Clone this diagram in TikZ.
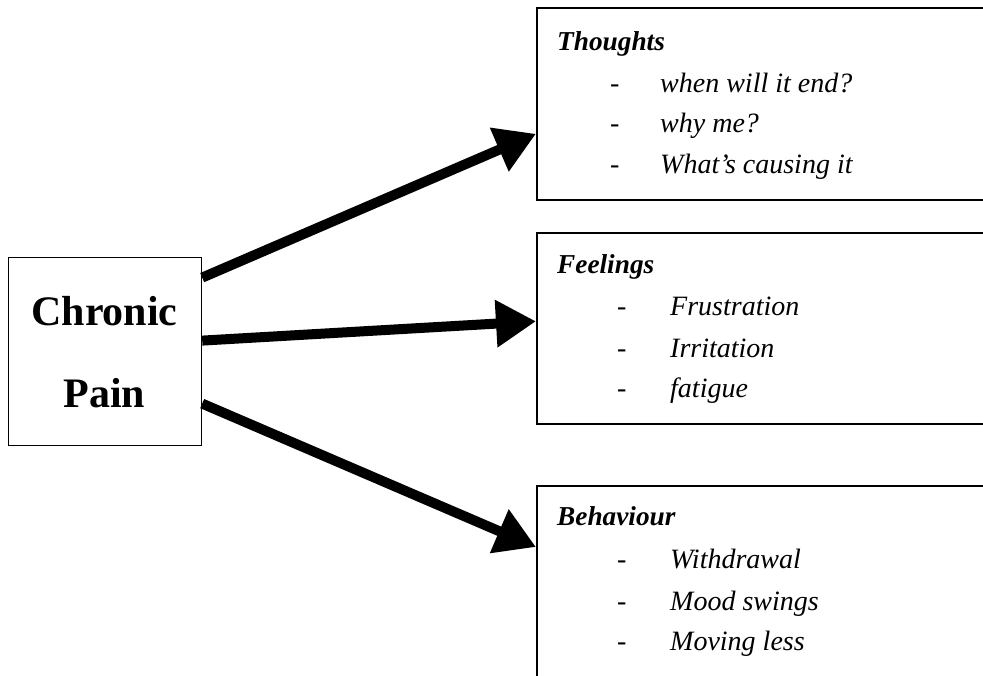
\documentclass[tikz,border=0pt]{standalone}
\usepackage{fontspec}
\setmainfont{Liberation Serif}
\usetikzlibrary{arrows.meta, positioning}

\begin{document}
\begin{tikzpicture}[
        x=1pt, y=-1pt,
        box/.style={draw, line width=1.6pt, rectangle, anchor=north west,
                    minimum width=460pt, inner sep=0pt},
        head/.style={anchor=base west, inner sep=0pt,
                     font=\fontsize{27.3}{30}\selectfont\bfseries\itshape},
        item/.style={anchor=base west, inner sep=0pt,
                     font=\fontsize{28}{30}\selectfont\itshape},
        dsh/.style={anchor=base west, inner sep=0pt,
                    font=\fontsize{28}{30}\selectfont},
        arr/.style={line width=10pt, -{Triangle[length=40pt, width=45pt]}},
      ]
      \useasboundingbox (0,0) rectangle (983,675);

      % Source box
      \node[draw, line width=1.2pt, anchor=north west, minimum width=193pt,
            minimum height=188pt, inner sep=0pt] (pain) at (8,257) {};
      \node[font=\fontsize{42}{45}\selectfont\bfseries, anchor=base,
            inner sep=0pt] (chronic) at (104.5,325) {Chronic};
      \node[font=\fontsize{42}{45}\selectfont\bfseries, anchor=base,
            inner sep=0pt] (painlbl) at (104.5,407) {Pain};

      % Target boxes (open to the right)
      \node[box, minimum height=192pt] (thoughts) at (536,7) {};
      \node[box, minimum height=191pt] (feelings) at (536,232) {};
      \node[box, minimum height=220pt] (behaviour) at (536,485) {};

      % Thoughts
      \node[head] (th0) at (557,50) {Thoughts};
      \node[dsh] (thd1) at (610,92) {-};
      \node[item] (th1) at (660,92) {when will it end?};
      \node[dsh] (thd2) at (610,132) {-};
      \node[item] (th2) at (660,132) {why me?};
      \node[dsh] (thd3) at (610,173) {-};
      \node[item] (th3) at (660,173) {What’s causing it};

      % Feelings
      \node[head] (fe0) at (557,273) {Feelings};
      \node[dsh] (fed1) at (617,315) {-};
      \node[item] (fe1) at (670,315) {Frustration};
      \node[dsh] (fed2) at (617,357) {-};
      \node[item] (fe2) at (670,357) {Irritation};
      \node[dsh] (fed3) at (617,397) {-};
      \node[item] (fe3) at (670,397) {fatigue};

      % Behaviour
      \node[head] (be0) at (557,525) {Behaviour};
      \node[dsh] (bed1) at (617,568) {-};
      \node[item] (be1) at (670,568) {Withdrawal};
      \node[dsh] (bed2) at (617,610) {-};
      \node[item] (be2) at (670,610) {Mood swings};
      \node[dsh] (bed3) at (617,650) {-};
      \node[item] (be3) at (670,650) {Moving less};

      % Arrows
      \draw[arr] ([yshift=74pt]pain.east) -- ([yshift=-30pt]thoughts.west);
      \draw[arr] ([yshift=11pt]pain.east) -- ([yshift=7pt]feelings.west);
      \draw[arr] ([yshift=-52pt]pain.east) -- ([yshift=-62pt]behaviour.north west);
      \end{tikzpicture}
\end{document}
